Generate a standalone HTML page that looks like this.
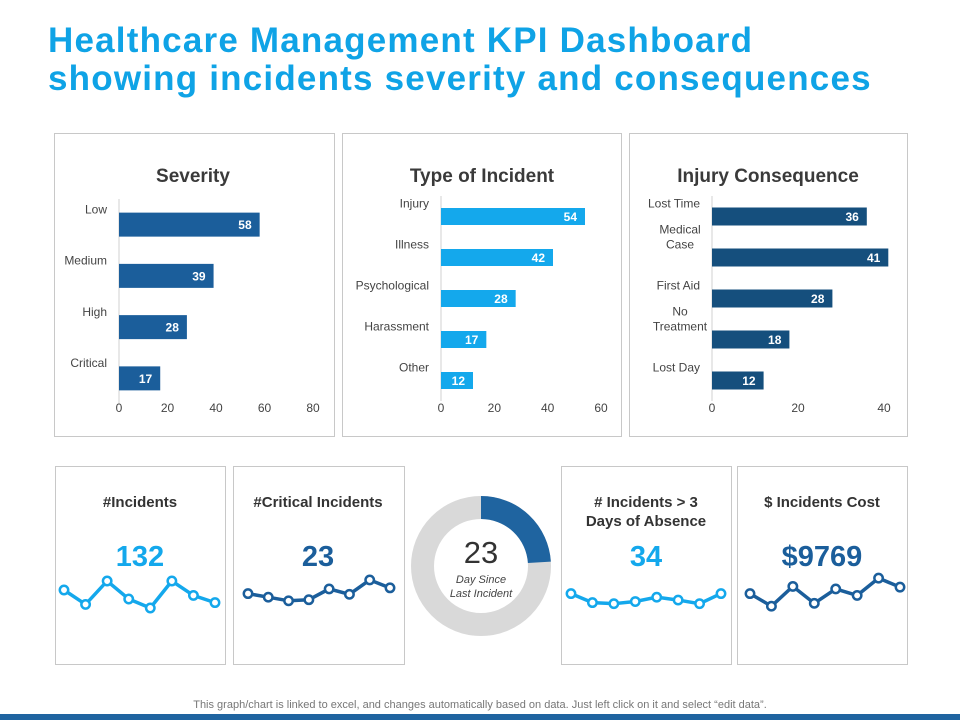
<!DOCTYPE html>
<html><head><meta charset="utf-8"><style>
body{margin:0;width:960px;height:720px;background:#fff;font-family:"Liberation Sans",Arial,sans-serif;overflow:hidden;position:relative}
.title{position:absolute;left:48px;top:22px;font-size:35px;font-weight:bold;color:#0fa3e6;line-height:38px;letter-spacing:1.2px}
.panel{position:absolute;border:1px solid #c8c8c8;box-sizing:border-box}
svg{position:absolute;left:0;top:0}
.foot{position:absolute;left:0;width:960px;top:699px;text-align:center;font-size:11px;color:#777}
.bar{position:absolute;left:0;top:714px;width:960px;height:6px;background:#1f64a0}
</style></head><body>
<div class="title">Healthcare Management KPI Dashboard<br>showing incidents severity and consequences</div>
<div class="panel" style="left:54px;top:133px;width:281px;height:304px"></div>
<div class="panel" style="left:342px;top:133px;width:280px;height:304px"></div>
<div class="panel" style="left:629px;top:133px;width:279px;height:304px"></div>
<div class="panel" style="left:55px;top:466px;width:171px;height:199px"></div>
<div class="panel" style="left:233px;top:466px;width:172px;height:199px"></div>
<div class="panel" style="left:561px;top:466px;width:171px;height:199px"></div>
<div class="panel" style="left:737px;top:466px;width:171px;height:199px"></div>
<svg id="chart" width="960" height="720" font-family="Liberation Sans, Arial, sans-serif"></svg>
<div class="foot">This graph/chart is linked to excel, and changes automatically based on data. Just left click on it and select “edit data”.</div>
<div class="bar"></div>
<script>
const sevCats=["Low","Medium","High","Critical"];
const sevVals=[58,39,28,17];
const sevTicks=[0,20,40,60,80];
const typeCats=["Injury","Illness","Psychological","Harassment","Other"];
const typeVals=[54,42,28,17,12];
const typeTicks=[0,20,40,60];
const injCats=[["Lost Time"],["Medical","Case"],["First Aid"],["No","Treatment"],["Lost Day"]];
const injVals=[36,41,28,18,12];
const injTicks=[0,20,40];
const sparkIncidents=[5,1,7.5,2.5,0,7.5,3.5,1.5];
const sparkCritical=[4,3,2,2.3,5.3,3.8,7.8,5.6];
const sparkAbsence=[4,1.5,1.2,1.8,3,2.2,1.2,4];
const sparkCost=[4,0.5,6,1.3,5.3,3.5,8.3,5.8];
const kpiValues=["132","23","34","$9769"];
const daysSince=23;
const daysFraction=0.24;

const svg=document.getElementById('chart');
const NS='http://www.w3.org/2000/svg';
function mk(tag,attrs,parent){const e=document.createElementNS(NS,tag);for(const k in attrs)e.setAttribute(k,attrs[k]);(parent||svg).appendChild(e);return e;}
function txt(s,attrs){const e=mk('text',attrs);e.textContent=s;return e;}

function barChart(cfg){
  const {cats,vals,ticks,x0,x1,top,bottom,color,barH,title,titleX,labelX,name}=cfg;
  const max=ticks[ticks.length-1];
  const sx=v=>x0+(v/max)*(x1-x0);
  const band=(bottom-top)/cats.length;
  const t=txt(title,{x:titleX,y:182,'font-size':19,'font-weight':'bold',fill:'#3a3a3a','text-anchor':'middle'});
  
  
  mk('line',{x1:x0,x2:x0,y1:top,y2:bottom,stroke:'#d0d0d0','stroke-width':1});
  cats.forEach((c,i)=>{
    const cy=top+band*(i+0.5);
    const r=mk('rect',{x:x0,y:cy-barH/2,width:sx(vals[i])-x0,height:barH,fill:color});
    
    
    const v=txt(String(vals[i]),{x:sx(vals[i])-8,y:cy+4.5,'font-size':12,'font-weight':'bold',fill:'#fff','text-anchor':'end'});
    
    
    const lines=Array.isArray(c)?c:[c];
    lines.forEach((ln,j)=>{
      const l=txt(ln,{x:labelX,y:cy-band*0.22-(lines.length-1-j)*15,'font-size':12,fill:'#444','text-anchor':lines.length>1?'middle':'end'});
      if(lines.length>1)l.setAttribute('x',labelX-20);
      
      
    });
  });
  ticks.forEach(tk=>{
    const l=txt(String(tk),{x:sx(tk),y:412,'font-size':12,fill:'#444','text-anchor':'middle'});
    
    
  });
}
barChart({cats:sevCats,vals:sevVals,ticks:sevTicks,x0:119,x1:313,top:199,bottom:404,color:'#1b5e9b',barH:24,title:'Severity',titleX:193,labelX:107,name:'severity'});
barChart({cats:typeCats,vals:typeVals,ticks:typeTicks,x0:441,x1:601,top:196,bottom:401,color:'#14a8ec',barH:17,title:'Type of Incident',titleX:482,labelX:429,name:'type'});
barChart({cats:injCats,vals:injVals,ticks:injTicks,x0:712,x1:884,top:196,bottom:401,color:'#154f7d',barH:18,title:'Injury Consequence',titleX:768,labelX:700,name:'injury'});

function card(title,val,color,cx,x0,x1,data,name){
  title.forEach((t,i)=>{
    const e=txt(t,{x:cx,y:507+i*19,'font-size':15,'font-weight':'bold',fill:'#333','text-anchor':'middle'});
    
    
  });
  const v=txt(val,{x:cx,y:566,'font-size':29,'font-weight':'bold',fill:color,'text-anchor':'middle'});
  
  
  const sx=i=>x0+i*(x1-x0)/(data.length-1);
  const sy=d=>608-d*3.6;
  const p=mk('polyline',{points:data.map((d,i)=>sx(i)+','+sy(d)).join(' '),fill:'none',stroke:color,'stroke-width':3.5});
  
  
  data.forEach((d,i)=>{
    const c=mk('circle',{cx:sx(i),cy:sy(d),r:4.2,fill:'#fff',stroke:color,'stroke-width':2.5});
    
    
  });
}
card(['#Incidents'],kpiValues[0],'#14a8ec',140,64,215,sparkIncidents,'incidents');
card(['#Critical Incidents'],kpiValues[1],'#1b5e9b',318,248,390,sparkCritical,'critical');
card(['# Incidents > 3','Days of Absence'],kpiValues[2],'#14a8ec',646,571,721,sparkAbsence,'absence');
card(['$ Incidents Cost'],kpiValues[3],'#1b5e9b',822,750,900,sparkCost,'cost');

const dcx=481,dcy=566,R=58.5,W=23;
const bg=mk('circle',{cx:dcx,cy:dcy,r:R,fill:'none',stroke:'#d9d9d9','stroke-width':W});


const a=daysFraction*2*Math.PI;
const ex=dcx+R*Math.sin(a),ey=dcy-R*Math.cos(a);
const arc=mk('path',{d:`M${dcx},${dcy-R} A${R},${R} 0 ${daysFraction>0.5?1:0} 1 ${ex},${ey}`,fill:'none',stroke:'#1f64a0','stroke-width':W});


const dn=txt(String(daysSince),{x:dcx,y:563,'font-size':31,fill:'#333','text-anchor':'middle'});


['Day Since','Last Incident'].forEach((t,i)=>{
  const e=txt(t,{x:dcx,y:583+i*14,'font-size':11,'font-style':'italic',fill:'#444','text-anchor':'middle'});
  
  
});
</script>
</body></html>
